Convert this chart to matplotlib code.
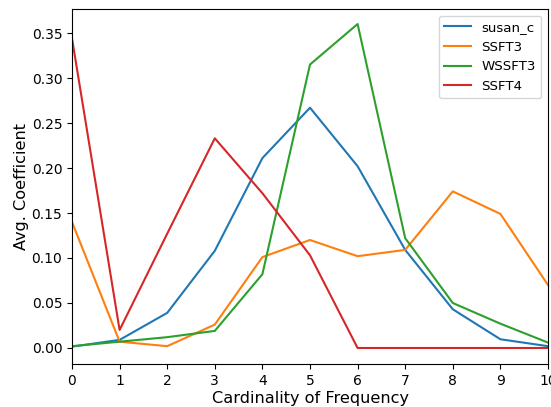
import matplotlib
matplotlib.use("Agg")
import matplotlib.pyplot as plt

x = list(range(11))
susan_c = [0.0015, 0.009, 0.039, 0.108, 0.211, 0.267, 0.202, 0.109, 0.043, 0.0097, 0.002]
ssft3 = [0.140, 0.007, 0.002, 0.026, 0.101, 0.120, 0.102, 0.109, 0.174, 0.149, 0.070]
wssft3 = [0.002, 0.007, 0.012, 0.019, 0.082, 0.315, 0.360, 0.122, 0.050, 0.027, 0.006]
ssft4 = [0.344, 0.020, 0.127, 0.233, 0.172, 0.103, 0.0, 0.0, 0.0, 0.0, 0.0]
labels = ["susan_c", "SSFT3", "WSSFT3", "SSFT4"]
colors = ["#1f77b4", "#ff7f0e", "#2ca02c", "#d62728"]

fig = plt.figure(figsize=(5.51, 4.07), dpi=100)
ax = fig.add_axes([72/551, 43/407, (548-72)/551, (364-9)/407])
for ys, lab, c in zip([susan_c, ssft3, wssft3, ssft4], labels, colors):
    ax.plot(x, ys, label=lab, color=c)
ax.set_xlim(0, 10)
ax.set_ylim(-0.0178, 0.3767)
ax.set_xticks(x)
ax.set_xlabel("Cardinality of Frequency", fontsize=11.6, labelpad=2)
ax.set_ylabel("Avg. Coefficient", fontsize=11.6, labelpad=2)
ax.legend(loc="upper right", fontsize=9.6)
fig.savefig("out.png", dpi=100)
